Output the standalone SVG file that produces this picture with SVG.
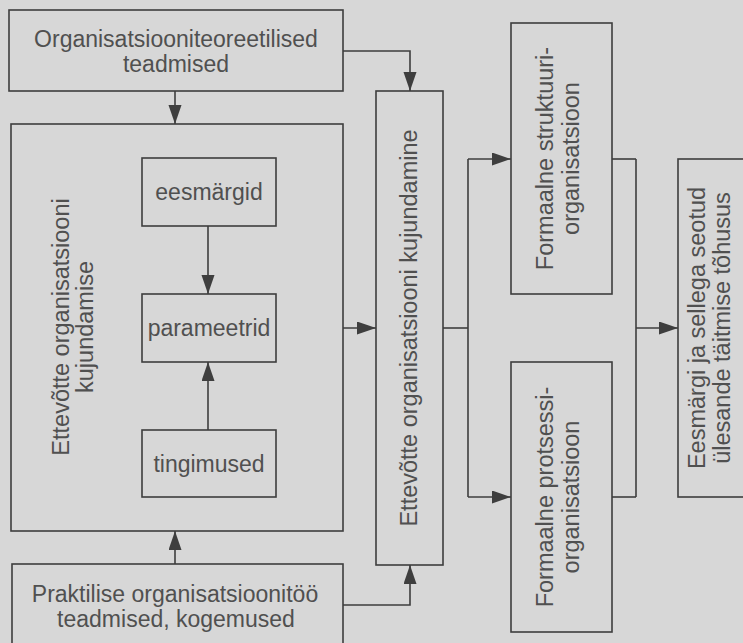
<svg xmlns="http://www.w3.org/2000/svg" width="743" height="643" viewBox="0 0 743 643">
  <style>
    .bg { fill: #d7d7d7; }
    .box { fill: none; stroke: #3e3e3e; stroke-width: 1.6; }
    .ln { fill: none; stroke: #3e3e3e; stroke-width: 1.6; }
    .t { font-family: "Liberation Sans", Arial, sans-serif; font-size: 23px; fill: #505050; text-anchor: middle; }
    .tv { font-family: "Liberation Sans", Arial, sans-serif; font-size: 23.5px; fill: #505050; text-anchor: middle; }
  </style>
  <defs>
    <marker id="arrow" markerUnits="userSpaceOnUse" markerWidth="20" markerHeight="14" refX="19" refY="6.5" orient="auto">
      <path d="M0,0 L19,6.5 L0,13 Z" fill="#3e3e3e"/>
    </marker>
  </defs>

  <rect class="bg" x="0" y="0" width="743" height="643"/>

  <!-- connectors -->
  <g id="connectors">
    <line class="ln" x1="175" y1="91" x2="175" y2="124" marker-end="url(#arrow)"/>
    <polyline class="ln" points="343,51 410,51 410,91" marker-end="url(#arrow)"/>
    <line class="ln" x1="208" y1="226" x2="208" y2="294" marker-end="url(#arrow)"/>
    <line class="ln" x1="208" y1="430" x2="208" y2="362" marker-end="url(#arrow)"/>
    <line class="ln" x1="175" y1="564" x2="175" y2="531" marker-end="url(#arrow)"/>
    <polyline class="ln" points="343,605 410,605 410,565" marker-end="url(#arrow)"/>
    <line class="ln" x1="343" y1="328" x2="376" y2="328" marker-end="url(#arrow)"/>
    <line class="ln" x1="443" y1="328" x2="468" y2="328"/>
    <line class="ln" x1="468" y1="159" x2="468" y2="497"/>
    <line class="ln" x1="468" y1="159" x2="511" y2="159" marker-end="url(#arrow)"/>
    <line class="ln" x1="468" y1="497" x2="511" y2="497" marker-end="url(#arrow)"/>
    <line class="ln" x1="612" y1="159" x2="636" y2="159"/>
    <line class="ln" x1="612" y1="497" x2="636" y2="497"/>
    <line class="ln" x1="636" y1="159" x2="636" y2="497"/>
    <line class="ln" x1="636" y1="328" x2="678" y2="328" marker-end="url(#arrow)"/>
  </g>

  <!-- nodes -->
  <g id="theory">
    <rect class="box" x="9" y="10" width="334" height="81"/>
    <text class="t" x="176" y="47">Organisatsiooniteoreetilised</text>
    <text class="t" x="176" y="72">teadmised</text>
  </g>

  <g id="design">
    <rect class="box" x="11" y="124" width="332" height="407"/>
    <text class="tv" transform="translate(69,327) rotate(-90)">Ettevõtte organisatsiooni</text>
    <text class="tv" transform="translate(93,327) rotate(-90)">kujundamise</text>
  </g>

  <g id="goals">
    <rect class="box" x="142" y="158" width="134" height="68"/>
    <text class="t" x="209" y="200">eesmärgid</text>
  </g>

  <g id="parameters">
    <rect class="box" x="142" y="294" width="134" height="68"/>
    <text class="t" x="209" y="336">parameetrid</text>
  </g>

  <g id="conditions">
    <rect class="box" x="142" y="430" width="134" height="67"/>
    <text class="t" x="209" y="472">tingimused</text>
  </g>

  <g id="practice">
    <rect class="box" x="12" y="564" width="331" height="90"/>
    <text class="t" x="175" y="602">Praktilise organisatsioonitöö</text>
    <text class="t" x="176" y="627">teadmised, kogemused</text>
  </g>

  <g id="shaping">
    <rect class="box" x="376" y="91" width="67" height="474"/>
    <text class="tv" transform="translate(417,328) rotate(-90)">Ettevõtte organisatsiooni kujundamine</text>
  </g>

  <g id="structure">
    <rect class="box" x="511" y="23" width="101" height="271"/>
    <text class="tv" transform="translate(553,158.5) rotate(-90)">Formaalne struktuuri-</text>
    <text class="tv" transform="translate(579,158.5) rotate(-90)">organisatsioon</text>
  </g>

  <g id="process">
    <rect class="box" x="511" y="362" width="101" height="270"/>
    <text class="tv" transform="translate(553,497) rotate(-90)">Formaalne protsessi-</text>
    <text class="tv" transform="translate(579,497) rotate(-90)">organisatsioon</text>
  </g>

  <g id="efficiency">
    <rect class="box" x="678" y="159" width="80" height="338"/>
    <text class="tv" transform="translate(705,328) rotate(-90)">Eesmärgi ja sellega seotud</text>
    <text class="tv" transform="translate(730,328) rotate(-90)">ülesande täitmise tõhusus</text>
  </g>
</svg>
